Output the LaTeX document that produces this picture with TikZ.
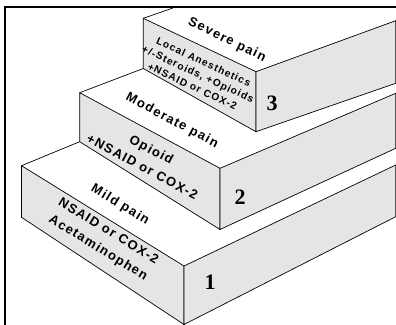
\documentclass[tikz,border=0pt]{standalone}
\usepackage{fontspec}
\setmainfont{Liberation Sans}
\newfontfamily\labfont[LetterSpace=10]{Liberation Sans}
\newfontfamily\numfont{Liberation Serif}

\begin{document}
\begin{tikzpicture}[x=1pt, y=-1pt,
    face/.style={fill=black!10, draw=black, line width=0.7pt, line join=miter},
    edge/.style={draw=black, line width=0.7pt},
    frame/.style={draw=black, line width=2.2pt},
    painlabel/.style={font=\labfont\fontsize{13}{16}\bfseries, align=center, inner sep=0pt},
    druglabel/.style={font=\labfont\fontsize{13}{19.5}\bfseries, align=center, inner sep=0pt},
    smalllabel/.style={font=\labfont\fontsize{10.2}{13.5}\bfseries, align=center, inner sep=0pt},
    stepnum/.style={font=\numfont\fontsize{22}{22}\bfseries, inner sep=0pt}]
    \useasboundingbox (0,0) rectangle (396,324);
    % step 1 corners
    \coordinate (s1a) at (21.5,165.7);
    \coordinate (s1b) at (184,266);
    \coordinate (s1c) at (184,324.5);
    \coordinate (s1d) at (21.5,217.3);
    \coordinate (s1e) at (395.7,165);
    \coordinate (s1f) at (395.7,216.7);
    % step 2 corners
    \coordinate (s2a) at (79.7,92.7);
    \coordinate (s2b) at (220,168.3);
    \coordinate (s2c) at (220,229.5);
    \coordinate (s2d) at (79.7,141.7);
    \coordinate (s2e) at (395.7,93.3);
    \coordinate (s2f) at (395.7,148.3);
    % step 3 corners
    \coordinate (s3a) at (143.3,18.3);
    \coordinate (s3b) at (256,71.7);
    \coordinate (s3c) at (256,131.7);
    \coordinate (s3d) at (143.3,68.5);
    \coordinate (s3e) at (395.7,20.7);
    \coordinate (s3f) at (395.7,83.3);
    \coordinate (s3g) at (173,8);
    % frame
    \coordinate (fbl) at (5.3,325);
    \coordinate (ftl) at (5.3,7.3);
    \coordinate (ftr) at (397,7.3);
    % faces of step 1
    \draw[face] (s1a) -- (s1b) -- (s1c) -- (s1d) -- cycle;
    \draw[face] (s1b) -- (s1e) -- (s1f) -- (s1c) -- cycle;
    \draw[edge] (s1a) -- (s2d);
    % faces of step 2
    \draw[face] (s2a) -- (s2b) -- (s2c) -- (s2d) -- cycle;
    \draw[face] (s2b) -- (s2e) -- (s2f) -- (s2c) -- cycle;
    \draw[edge] (s2a) -- (s3d);
    % faces of step 3
    \draw[face] (s3a) -- (s3b) -- (s3c) -- (s3d) -- cycle;
    \draw[face] (s3b) -- (s3e) -- (s3f) -- (s3c) -- cycle;
    \draw[edge] (s3a) -- (s3g);
    \draw[frame] (fbl) -- (ftl) -- (ftr);
    % labels of step 3
    \node[painlabel, rotate=-26] (severe) at (227,40) {Severe pain};
    \node[smalllabel, rotate=-25] (drugs3) at (198,74) {Local Anesthetics\\+/-Steroids, +Opioids\\+NSAID or COX-2};
    \node[stepnum] (num3) at (272,103) {3};
    % labels of step 2
    \node[painlabel, rotate=-28] (moderate) at (172,121) {Moderate pain};
    \node[druglabel, rotate=-28] (drugs2) at (147,158) {Opioid\\+NSAID or COX-2};
    \node[stepnum] (num2) at (240,197) {2};
    % labels of step 1
    \node[painlabel, rotate=-31.5] (mild) at (120,205) {Mild pain};
    \node[druglabel, rotate=-31.5] (drugs1) at (103,240) {NSAID or COX-2\\Acetaminophen};
    \node[stepnum] (num1) at (210,282) {1};
\end{tikzpicture}
\end{document}
